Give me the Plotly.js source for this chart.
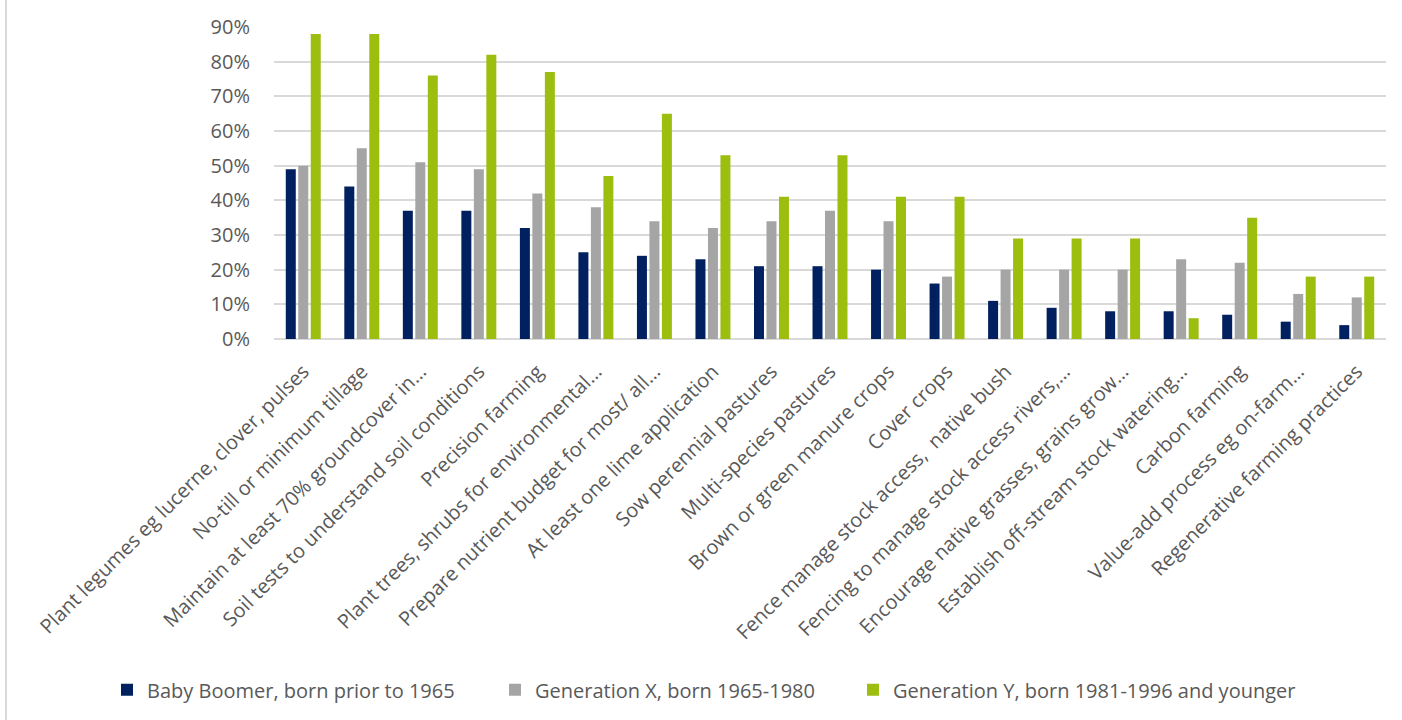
<!DOCTYPE html>
<html>
<head>
<meta charset="utf-8">
<script src="https://cdn.plot.ly/plotly-3.0.1.min.js"></script>
<style>
  html, body { margin: 0; padding: 0; background: #fff; }
  #wrap { position: relative; width: 1402px; height: 720px; }
  #chart { width: 1402px; height: 720px; }
  #edge { position: absolute; left: 5px; top: 0; width: 2px; height: 720px; background: #d9d9d9; }
</style>
</head>
<body>
<div id="wrap"><div id="chart"></div><div id="edge"></div></div>
<script>
const categories = [
  "Plant legumes eg lucerne, clover, pulses",
  "No-till or minimum tillage",
  "Maintain at least 70% groundcover in…",
  "Soil tests to understand soil conditions",
  "Precision farming",
  "Plant trees, shrubs for environmental…",
  "Prepare nutrient budget for most/ all…",
  "At least one lime application",
  "Sow perennial pastures",
  "Multi-species pastures",
  "Brown or green manure crops",
  "Cover crops",
  "Fence manage stock access,  native bush",
  "Fencing to manage stock access rivers,…",
  "Encourage native grasses, grains grow…",
  "Establish off-stream stock watering…",
  "Carbon farming",
  "Value-add process eg on-farm…",
  "Regenerative farming practices"
];
const seriesNames = [
  "Baby Boomer, born prior to 1965",
  "Generation X, born 1965-1980",
  "Generation Y, born 1981-1996 and younger"
];
const babyBoomer = [49, 44, 37, 37, 32, 25, 24, 23, 21, 21, 20, 16, 11, 9, 8, 8, 7, 5, 4];
const genX       = [50, 55, 51, 49, 42, 38, 34, 32, 34, 37, 34, 18, 20, 20, 20, 23, 22, 13, 12];
const genY       = [88, 88, 76, 82, 77, 47, 65, 53, 41, 53, 41, 41, 29, 29, 29, 6, 35, 18, 18];
const yTicks = [0, 10, 20, 30, 40, 50, 60, 70, 80, 90];

const colors = ["#002060", "#A5A5A5", "#9BBE0F"];
const values = [babyBoomer, genX, genY];
const legendIds = ["legend", "legend2", "legend3"];
const legendX = [107, 495, 853];

const data = values.map((v, i) => ({
  type: "bar",
  x: categories,
  y: v,
  name: seriesNames[i],
  legend: legendIds[i],
  marker: { color: colors[i], line: { width: 0 } },
  hoverinfo: "x+y+name"
}));

const legendBase = (px) => ({
  orientation: "h",
  xref: "container",
  yref: "container",
  x: px / 1402,
  xanchor: "left",
  y: 0.042,
  yanchor: "middle",
  font: { family: "Open Sans, sans-serif", size: 20, color: "#595959" },
  itemwidth: 30,
  bgcolor: "rgba(0,0,0,0)"
});

const layout = {
  width: 1402,
  height: 720,
  paper_bgcolor: "#ffffff",
  plot_bgcolor: "#ffffff",
  margin: { l: 274, r: 16, t: 27, b: 381 },
  barmode: "group",
  bargap: 0.36,
  bargroupgap: 0.2,
  font: { family: "Open Sans, sans-serif", color: "#595959" },
  showlegend: true,
  legend: legendBase(legendX[0]),
  legend2: legendBase(legendX[1]),
  legend3: legendBase(legendX[2]),
  xaxis: {
    type: "category",
    tickmode: "linear",
    dtick: 1,
    tickangle: -45,
    tickfont: { family: "Open Sans, sans-serif", size: 20, color: "#595959" },
    showgrid: false,
    showline: false,
    ticks: "",
    ticklabelstandoff: 16,
    automargin: false
  },
  yaxis: {
    range: [0, 90],
    tickvals: yTicks,
    ticktext: yTicks.map(t => t + "%"),
    tickfont: { family: "Open Sans, sans-serif", size: 20, color: "#595959" },
    showgrid: true,
    gridcolor: "#d9d9d9",
    gridwidth: 2,
    zeroline: true,
    zerolinecolor: "#d9d9d9",
    zerolinewidth: 2,
    showline: false,
    ticks: "",
    ticklabelstandoff: 23,
    automargin: false
  }
};

Plotly.newPlot("chart", data, layout, { displayModeBar: false, responsive: false });
</script>
</body>
</html>
